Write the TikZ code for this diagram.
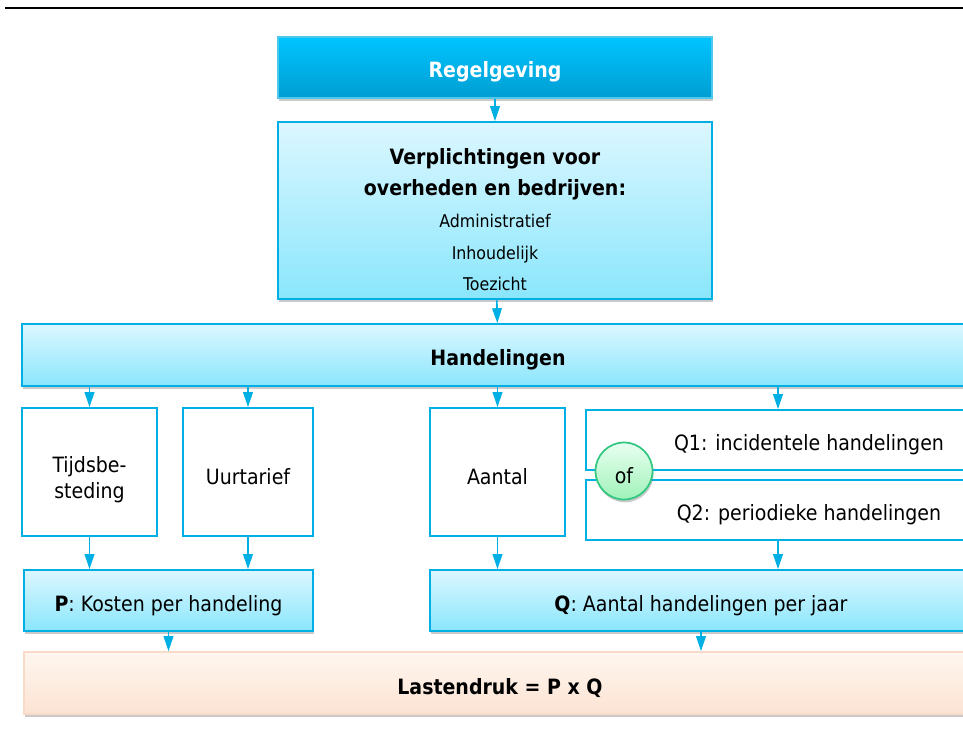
\documentclass[tikz,border=0pt]{standalone}
\usepackage{fontspec}
\setmainfont{DejaVu Sans Condensed}
\usetikzlibrary{arrows.meta,shadows}
\definecolor{lijnblauw}{RGB}{0,176,228}
\definecolor{donkerboven}{RGB}{0,196,255}
\definecolor{donkeronder}{RGB}{0,158,210}
\definecolor{lichtboven}{RGB}{220,247,255}
\definecolor{lichtonder}{RGB}{138,230,252}
\definecolor{perzikboven}{RGB}{255,246,239}
\definecolor{perzikonder}{RGB}{252,227,211}
\definecolor{perziklijn}{RGB}{248,218,200}
\definecolor{groenlijn}{RGB}{50,200,130}
\definecolor{groenboven}{RGB}{232,255,240}
\definecolor{groenonder}{RGB}{160,242,185}
\newcommand{\zakstrut}{\rule{0pt}{14.5pt}}
\tikzset{
  schaduw/.style={drop shadow={shadow xshift=0.6pt, shadow yshift=-1.6pt, opacity=0.35, fill=black!60}},
  omlaag/.style={execute at begin node=\zakstrut},
  blok/.style={draw=lijnblauw, line width=1pt, top color=lichtboven, bottom color=lichtonder, schaduw, align=center, inner sep=0pt, omlaag},
  witblok/.style={draw=lijnblauw, line width=1pt, fill=white, align=center, inner sep=0pt, omlaag},
  pijl/.style={draw=lijnblauw, line width=0.9pt, -{Triangle[width=5.5pt,length=8.5pt]}},
}
\begin{document}
\begin{tikzpicture}[font=\fontsize{12}{14.7}\selectfont]
  \clip (0,0) rectangle (19.26,-14.94);
  % Bovenlijn
  \draw[line width=1.3pt] (0.1,-0.16) -- (19.3,-0.16);

  % Regelgeving en verplichtingen
  \node[draw=lijnblauw!70, line width=1pt, top color=donkerboven, bottom color=donkeronder, schaduw, omlaag,
        minimum width=8.68cm, minimum height=1.22cm, text=white, font=\fontsize{12}{14}\selectfont\bfseries]
        (regel) at (9.9,-1.35) {Regelgeving};
  \node[blok, minimum width=8.68cm, minimum height=3.54cm] (verpl) at (9.9,-4.21) {};
  \node[align=center, font=\fontsize{12}{18}\selectfont] (verpltekst) at (9.9,-4.39)
        {\textbf{Verplichtingen voor}\\ \textbf{overheden en bedrijven:}\\
         {\fontsize{10}{17}\selectfont Administratief}\\
         {\fontsize{10}{17}\selectfont Inhoudelijk}\\
         {\fontsize{10}{17}\selectfont Toezicht}};

  % Handelingen
  \node[blok, minimum width=19.04cm, minimum height=1.24cm, font=\fontsize{12}{14}\selectfont\bfseries]
        (hand) at (9.96,-7.1) {Handelingen};

  % Onderdelen
  \node[witblok, minimum width=2.7cm, minimum height=2.56cm] (tijd) at (1.79,-9.44) {\rule{0pt}{17.5pt}Tijdsbe-\\steding};
  \node[witblok, minimum width=2.6cm, minimum height=2.56cm] (uur) at (4.96,-9.44) {Uurtarief};
  \node[witblok, minimum width=2.7cm, minimum height=2.56cm] (aantal) at (9.95,-9.44) {Aantal};
  \node[witblok, minimum width=8.92cm, minimum height=1.2cm] (q1) at (16.18,-8.8) {Q1: incidentele handelingen};
  \node[witblok, minimum width=8.92cm, minimum height=1.2cm] (q2) at (16.18,-10.2) {Q2: periodieke handelingen};
  \node[circle, draw=groenlijn, line width=1pt, top color=groenboven, bottom color=groenonder, schaduw, omlaag,
        minimum size=1.14cm, inner sep=0pt] (of) at (12.48,-9.42) {of};

  % P en Q
  \node[blok, minimum width=5.78cm, minimum height=1.22cm] (p) at (3.37,-12.01) {\textbf{P}: Kosten per handeling};
  \node[blok, minimum width=10.84cm, minimum height=1.22cm] (q) at (14.02,-12.01) {\textbf{Q}: Aantal handelingen per jaar};

  % Lastendruk
  \node[draw=perziklijn, line width=1pt, top color=perzikboven, bottom color=perzikonder, schaduw, omlaag,
        minimum width=19.04cm, minimum height=1.24cm, font=\fontsize{12}{14}\selectfont\bfseries]
        (last) at (10.0,-13.66) {Lastendruk = P x Q};

  % Pijlen
  \draw[pijl] (regel) -- (verpl);
  \draw[pijl] (verpl) -- (hand);
  \draw[pijl] (tijd.north |- hand.south) -- (tijd.north);
  \draw[pijl] (uur.north |- hand.south) -- (uur.north);
  \draw[pijl] (aantal.north |- hand.south) -- (aantal.north);
  \draw[pijl] ([xshift=-0.62cm]q1.north |- hand.south) -- ([xshift=-0.62cm]q1.north);
  \draw[pijl] (tijd.south) -- (tijd.south |- p.north);
  \draw[pijl] (uur.south) -- (uur.south |- p.north);
  \draw[pijl] (aantal.south) -- (aantal.south |- q.north);
  \draw[pijl] ([xshift=-0.62cm]q2.south) -- ([xshift=-0.62cm]q2.south |- q.north);
  \draw[pijl] (p.south) -- (p.south |- last.north);
  \draw[pijl] (q.south) -- (q.south |- last.north);
\end{tikzpicture}
\end{document}
